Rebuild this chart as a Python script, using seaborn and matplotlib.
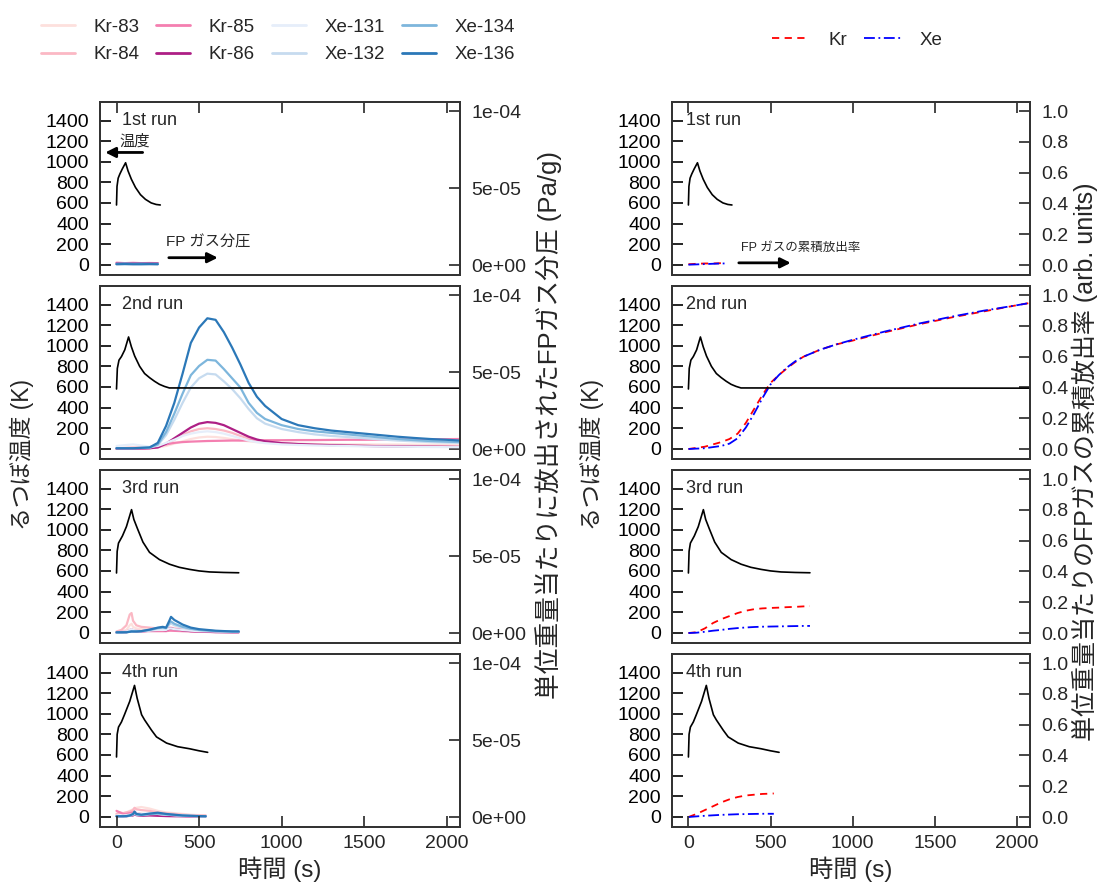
import numpy as np
import pandas as pd
import matplotlib
matplotlib.use("Agg")
import matplotlib.pyplot as plt
import seaborn as sns
from matplotlib.lines import Line2D

sns.set_style("white")
plt.rcParams['font.family'] = ['Liberation Sans', 'Noto Sans CJK JP']
plt.rcParams['axes.unicode_minus'] = False

# ---------------- data ----------------
isotopes = ["Kr-83", "Kr-84", "Kr-85", "Kr-86", "Xe-131", "Xe-132", "Xe-134", "Xe-136"]
iso_colors = ["#fde0dd", "#fbb8c4", "#f47fb0", "#ae1f85", "#e6eefa", "#c6dbef", "#7db6dc", "#2b78b8"]
run_labels = ["1st run", "2nd run", "3rd run", "4th run"]

# crucible temperature (K)
t_temp1 = [0, 3, 10, 20, 35, 55, 70, 90, 115, 145, 175, 210, 240, 265]
T1 = [580, 760, 840, 880, 930, 990, 910, 830, 750, 680, 635, 600, 585, 580]
t_temp2 = [0, 5, 15, 30, 50, 73, 90, 110, 140, 170, 200, 230, 260, 290, 320, 2080]
T2 = [580, 780, 860, 895, 960, 1085, 990, 900, 800, 730, 690, 655, 625, 605, 590, 588]
t_temp3 = [0, 4, 12, 36, 60, 91, 105, 127, 160, 200, 260, 321, 380, 442, 500, 564, 650, 740]
T3 = [580, 790, 870, 940, 1030, 1195, 1100, 1010, 880, 780, 710, 665, 635, 615, 600, 590, 585, 582]
t_temp4 = [0, 4, 12, 30, 48, 80, 109, 125, 152, 170, 212, 242, 303, 370, 442, 500, 552]
T4 = [580, 800, 870, 920, 990, 1120, 1275, 1150, 990, 940, 840, 775, 715, 680, 660, 640, 625]

# FP gas partial pressure per unit mass (1e-5 Pa/g)
t_gas1 = [0, 50, 100, 150, 200, 250]
gas1 = {
    "Kr-83": [0.05, 0.08, 0.06, 0.07, 0.05, 0.05],
    "Kr-84": [0.1, 0.12, 0.1, 0.1, 0.08, 0.08],
    "Kr-85": [0.15, 0.12, 0.14, 0.12, 0.13, 0.12],
    "Kr-86": [0.1, 0.12, 0.1, 0.11, 0.1, 0.1],
    "Xe-131": [0.05, 0.06, 0.05, 0.05, 0.05, 0.05],
    "Xe-132": [0.06, 0.07, 0.06, 0.06, 0.06, 0.06],
    "Xe-134": [0.08, 0.1, 0.08, 0.09, 0.08, 0.08],
    "Xe-136": [0.05, 0.06, 0.05, 0.05, 0.06, 0.05],
}

t_gas2 = [0, 100, 200, 250, 300, 350, 400, 450, 500, 550, 600, 650, 700, 750, 800, 850,
          900, 1000, 1100, 1200, 1300, 1400, 1500, 1600, 1700, 1800, 1900, 2000, 2080]
gas2 = {
    "Kr-83": [0.02, 0.05, 0.05, 0.1, 0.2, 0.35, 0.5, 0.65, 0.75, 0.8, 0.78, 0.72, 0.64, 0.56, 0.5, 0.45,
              0.42, 0.38, 0.35, 0.33, 0.32, 0.3, 0.3, 0.29, 0.29, 0.28, 0.28, 0.28, 0.27],
    "Kr-84": [0.05, 0.1, 0.1, 0.15, 0.3, 0.6, 0.9, 1.15, 1.3, 1.35, 1.3, 1.2, 1.05, 0.85, 0.68, 0.55,
              0.47, 0.38, 0.33, 0.3, 0.27, 0.25, 0.23, 0.21, 0.2, 0.19, 0.18, 0.17, 0.16],
    "Kr-85": [0.02, 0.02, 0.05, 0.15, 0.3, 0.4, 0.45, 0.48, 0.5, 0.52, 0.53, 0.54, 0.55, 0.55, 0.56, 0.56,
              0.57, 0.57, 0.58, 0.58, 0.59, 0.6, 0.6, 0.61, 0.62, 0.62, 0.63, 0.64, 0.65],
    "Kr-86": [0.02, 0.02, 0.05, 0.1, 0.35, 0.7, 1.05, 1.4, 1.65, 1.75, 1.7, 1.55, 1.3, 1.05, 0.8, 0.62,
              0.5, 0.38, 0.32, 0.28, 0.25, 0.22, 0.2, 0.18, 0.17, 0.16, 0.15, 0.14, 0.13],
    "Xe-131": [0.2, 0.3, 0.15, 0.2, 0.4, 0.6, 0.85, 1.0, 1.1, 1.15, 1.1, 1.0, 0.85, 0.7, 0.55, 0.45,
               0.38, 0.3, 0.26, 0.23, 0.21, 0.19, 0.17, 0.16, 0.15, 0.14, 0.13, 0.12, 0.12],
    "Xe-132": [0.05, 0.05, 0.08, 0.25, 0.9, 1.9, 3.0, 4.0, 4.6, 4.9, 4.85, 4.4, 3.9, 3.3, 2.6, 2.0,
               1.65, 1.3, 1.1, 0.95, 0.85, 0.78, 0.7, 0.62, 0.55, 0.5, 0.45, 0.42, 0.4],
    "Xe-134": [0.05, 0.05, 0.1, 0.3, 1.1, 2.3, 3.6, 4.8, 5.4, 5.8, 5.75, 5.2, 4.6, 4.0, 3.0, 2.35,
               1.95, 1.55, 1.3, 1.15, 1.05, 0.95, 0.85, 0.75, 0.65, 0.58, 0.52, 0.48, 0.45],
    "Xe-136": [0.05, 0.05, 0.1, 0.4, 1.5, 3.0, 4.9, 6.9, 7.9, 8.5, 8.4, 7.6, 6.6, 5.5, 4.3, 3.4,
               2.8, 1.95, 1.55, 1.35, 1.2, 1.1, 1.0, 0.9, 0.8, 0.72, 0.65, 0.6, 0.55],
}

t_gas3 = [0, 30, 60, 80, 91, 100, 120, 150, 200, 250, 280, 300, 320, 330, 350, 400, 450, 500, 600, 700, 740]
gas3 = {
    "Kr-83": [0.05, 0.1, 0.2, 0.5, 0.6, 0.4, 0.3, 0.25, 0.2, 0.2, 0.2, 0.2, 0.25, 0.25, 0.2, 0.18, 0.15, 0.12, 0.1, 0.08, 0.08],
    "Kr-84": [0.1, 0.2, 0.5, 1.2, 1.3, 0.8, 0.5, 0.4, 0.35, 0.3, 0.3, 0.3, 0.35, 0.35, 0.3, 0.25, 0.2, 0.15, 0.1, 0.08, 0.08],
    "Kr-85": [0.05, 0.08, 0.1, 0.2, 0.25, 0.2, 0.15, 0.12, 0.12, 0.12, 0.12, 0.12, 0.15, 0.15, 0.14, 0.12, 0.1, 0.08, 0.06, 0.05, 0.05],
    "Kr-86": [0.02, 0.03, 0.05, 0.1, 0.12, 0.1, 0.08, 0.1, 0.15, 0.2, 0.2, 0.18, 0.3, 0.3, 0.25, 0.18, 0.12, 0.1, 0.06, 0.05, 0.05],
    "Xe-131": [0.05, 0.08, 0.1, 0.2, 0.25, 0.2, 0.15, 0.12, 0.15, 0.2, 0.2, 0.2, 0.3, 0.3, 0.25, 0.2, 0.15, 0.12, 0.1, 0.08, 0.08],
    "Xe-132": [0.03, 0.03, 0.05, 0.08, 0.1, 0.1, 0.1, 0.12, 0.18, 0.3, 0.32, 0.3, 0.55, 0.62, 0.5, 0.35, 0.25, 0.18, 0.12, 0.1, 0.1],
    "Xe-134": [0.03, 0.03, 0.05, 0.08, 0.1, 0.1, 0.1, 0.12, 0.2, 0.32, 0.35, 0.32, 0.65, 0.75, 0.6, 0.4, 0.28, 0.2, 0.12, 0.1, 0.1],
    "Xe-136": [0.05, 0.05, 0.05, 0.08, 0.1, 0.1, 0.1, 0.12, 0.22, 0.35, 0.4, 0.35, 0.8, 1.05, 0.85, 0.55, 0.35, 0.25, 0.15, 0.1, 0.1],
}

t_gas4 = [0, 20, 40, 60, 80, 100, 109, 120, 150, 200, 250, 300, 350, 400, 450, 500, 540]
gas4 = {
    "Kr-83": [0.2, 0.25, 0.25, 0.3, 0.4, 0.5, 0.55, 0.6, 0.65, 0.55, 0.4, 0.3, 0.25, 0.2, 0.15, 0.12, 0.1],
    "Kr-84": [0.2, 0.3, 0.25, 0.3, 0.35, 0.45, 0.6, 0.5, 0.45, 0.4, 0.3, 0.25, 0.2, 0.15, 0.12, 0.1, 0.1],
    "Kr-85": [0.4, 0.3, 0.2, 0.2, 0.25, 0.3, 0.35, 0.25, 0.2, 0.15, 0.12, 0.1, 0.08, 0.06, 0.05, 0.05, 0.05],
    "Kr-86": [0.05, 0.05, 0.05, 0.05, 0.08, 0.1, 0.2, 0.12, 0.08, 0.1, 0.08, 0.06, 0.05, 0.05, 0.04, 0.04, 0.04],
    "Xe-131": [0.1, 0.1, 0.1, 0.12, 0.15, 0.2, 0.3, 0.25, 0.2, 0.25, 0.2, 0.15, 0.12, 0.1, 0.08, 0.06, 0.05],
    "Xe-132": [0.05, 0.05, 0.05, 0.06, 0.08, 0.15, 0.25, 0.15, 0.12, 0.18, 0.2, 0.15, 0.12, 0.08, 0.06, 0.05, 0.04],
    "Xe-134": [0.05, 0.05, 0.05, 0.06, 0.08, 0.18, 0.3, 0.18, 0.13, 0.2, 0.22, 0.17, 0.13, 0.09, 0.07, 0.05, 0.04],
    "Xe-136": [0.05, 0.05, 0.05, 0.06, 0.1, 0.2, 0.35, 0.2, 0.15, 0.22, 0.28, 0.2, 0.15, 0.1, 0.08, 0.06, 0.05],
}

# cumulative release fraction (arb. units)
t_cum1 = [0, 50, 100, 150, 200, 230]
kr_cum1 = [0.005, 0.008, 0.01, 0.01, 0.012, 0.012]
xe_cum1 = [0.002, 0.004, 0.006, 0.008, 0.01, 0.01]
t_cum2 = [0, 100, 200, 250, 300, 350, 400, 450, 500, 550, 600, 650, 700, 800, 900, 1000,
          1200, 1400, 1600, 1800, 2000, 2080]
kr_cum2 = [0, 0.015, 0.045, 0.065, 0.1, 0.17, 0.26, 0.35, 0.43, 0.48, 0.525, 0.565, 0.6, 0.645, 0.68, 0.705,
           0.76, 0.81, 0.855, 0.895, 0.935, 0.95]
xe_cum2 = [0, 0.005, 0.02, 0.035, 0.07, 0.14, 0.23, 0.33, 0.42, 0.48, 0.53, 0.57, 0.6, 0.645, 0.68, 0.71,
           0.765, 0.815, 0.86, 0.9, 0.935, 0.95]
t_cum3 = [0, 50, 100, 150, 200, 250, 300, 350, 400, 450, 500, 550, 600, 650, 700, 740]
kr_cum3 = [0, 0.005, 0.03, 0.065, 0.09, 0.11, 0.13, 0.145, 0.155, 0.16, 0.163, 0.165, 0.168, 0.17, 0.173, 0.175]
xe_cum3 = [0, 0.002, 0.008, 0.015, 0.02, 0.027, 0.032, 0.036, 0.039, 0.041, 0.042, 0.043, 0.044, 0.045, 0.046, 0.046]
t_cum4 = [0, 50, 100, 150, 200, 250, 300, 350, 400, 450, 500, 520]
kr_cum4 = [0, 0.02, 0.045, 0.07, 0.095, 0.115, 0.13, 0.14, 0.145, 0.15, 0.152, 0.153]
xe_cum4 = [0, 0.004, 0.008, 0.011, 0.014, 0.016, 0.018, 0.019, 0.02, 0.021, 0.021, 0.021]

temp_runs = [(t_temp1, T1), (t_temp2, T2), (t_temp3, T3), (t_temp4, T4)]
gas_runs = [(t_gas1, gas1), (t_gas2, gas2), (t_gas3, gas3), (t_gas4, gas4)]
cum_runs = [(t_cum1, kr_cum1, xe_cum1), (t_cum2, kr_cum2, xe_cum2),
            (t_cum3, kr_cum3, xe_cum3), (t_cum4, kr_cum4, xe_cum4)]

temp_ticks = [0, 200, 400, 600, 800, 1000, 1200, 1400]
x_ticks = [0, 500, 1000, 1500, 2000]
gas_ticks = [0, 5e-5, 1e-4]
gas_tick_labels = ["0e+00", "5e-05", "1e-04"]
cum_ticks = [0, 0.2, 0.4, 0.6, 0.8, 1.0]
cum_tick_labels = ["0.0", "0.2", "0.4", "0.6", "0.8", "1.0"]

# ---------------- figure ----------------
W, H = 1099, 885
fig = plt.figure(figsize=(W / 100, H / 100), dpi=100)

col_x = [100 / W, 672 / W]
col_w = [360 / W, 358 / W]
row_top = [102, 286, 470, 654]
row_h = 173

XLIM = (-100, 2080)
TLIM = (-100, 1580)
GLIM = (-6.5e-6, 1.06e-4)
CLIM = (-0.065, 1.06)

TICK = 14
spine_col = "#333333"


def style_axes(ax, ax2, row):
    for a in (ax, ax2):
        for s in a.spines.values():
            s.set_color(spine_col)
            s.set_linewidth(1.3)
    ax.tick_params(axis="y", direction="in", length=8, width=1.2, labelsize=TICK, pad=8,
                   left=True, right=False, colors="black")
    ax.tick_params(axis="x", direction="in", length=8, width=1.2, labelsize=TICK, pad=6,
                   top=(row == 0), bottom=(row == 3), labelbottom=(row == 3), labeltop=False)
    ax2.tick_params(axis="y", direction="in", length=8, width=1.2, labelsize=TICK, pad=8,
                    right=True, left=False)
    ax.set_xticks(x_ticks)
    if row not in (0, 3):
        ax.tick_params(axis="x", top=False, bottom=False, labelbottom=False)
    ax.set_xlim(*XLIM)
    ax.set_ylim(*TLIM)
    ax.set_yticks(temp_ticks)
    ax.set_xlabel("")
    ax.set_ylabel("")
    ax2.set_ylabel("")
    ax.set_zorder(ax2.get_zorder() + 1)
    ax.patch.set_visible(False)


for row in range(4):
    bottom = 1 - (row_top[row] + row_h) / H
    # ---- left column: partial pressure ----
    ax = fig.add_axes([col_x[0], bottom, col_w[0], row_h / H])
    ax2 = ax.twinx()
    tg, gd = gas_runs[row]
    for iso, colr in zip(isotopes, iso_colors):
        vals = [v * 1e-5 for v in gd[iso]]
        sns.lineplot(x=tg, y=vals, ax=ax2, color=colr, lw=1.6, estimator=None, sort=False, legend=False)
    tt, TT = temp_runs[row]
    sns.lineplot(x=tt, y=TT, ax=ax, color="black", lw=1.2, estimator=None, sort=False, legend=False)
    ax2.set_ylim(*GLIM)
    ax2.set_yticks(gas_ticks)
    ax2.set_yticklabels(gas_tick_labels)
    style_axes(ax, ax2, row)
    ax.text(0.06, 0.895, run_labels[row], transform=ax.transAxes, fontsize=13, va="center", ha="left")
    if row == 0:
        ax.annotate("", xy=(-85, 1090), xytext=(175, 1090),
                    arrowprops=dict(arrowstyle="-|>,head_length=0.6,head_width=0.3", color="black", lw=2))
        ax.text(20, 1195, "温度", fontsize=11, va="center", ha="left")
        ax.annotate("", xy=(630, 68), xytext=(300, 68),
                    arrowprops=dict(arrowstyle="-|>,head_length=0.6,head_width=0.3", color="black", lw=2))
        ax.text(300, 215, "FP ガス分圧", fontsize=11, va="center", ha="left")
    if row == 3:
        ax.set_xlabel("時間 (s)", fontsize=17.5, labelpad=3)

    # ---- right column: cumulative release ----
    bx = fig.add_axes([col_x[1], bottom, col_w[1], row_h / H])
    bx2 = bx.twinx()
    tc, krc, xec = cum_runs[row]
    sns.lineplot(x=tc, y=krc, ax=bx2, color="red", lw=1.3, linestyle=(0, (4, 3)),
                 estimator=None, sort=False, legend=False)
    sns.lineplot(x=tc, y=xec, ax=bx2, color="blue", lw=1.3, linestyle=(0, (6, 2, 1, 2)),
                 estimator=None, sort=False, legend=False)
    sns.lineplot(x=tt, y=TT, ax=bx, color="black", lw=1.2, estimator=None, sort=False, legend=False)
    bx2.set_ylim(*CLIM)
    bx2.set_yticks(cum_ticks)
    bx2.set_yticklabels(cum_tick_labels)
    style_axes(bx, bx2, row)
    bx.text(0.04, 0.895, run_labels[row], transform=bx.transAxes, fontsize=13, va="center", ha="left")
    if row == 0:
        bx.annotate("", xy=(640, 18), xytext=(290, 18),
                    arrowprops=dict(arrowstyle="-|>,head_length=0.6,head_width=0.3", color="black", lw=2))
        bx.text(320, 165, "FP ガスの累積放出率", fontsize=9, va="center", ha="left")
    if row == 3:
        bx.set_xlabel("時間 (s)", fontsize=17.5, labelpad=3)

# axis titles
fig.text(22 / W, 1 - 455 / H, "るつぼ温度 (K)", rotation=90, fontsize=16.5, va="center", ha="center")
fig.text(548 / W, 1 - 425 / H, "単位重量当たりに放出されたFPガス分圧 (Pa/g)", rotation=90, fontsize=18.5,
         va="center", ha="center")
fig.text(592 / W, 1 - 455 / H, "るつぼ温度 (K)", rotation=90, fontsize=16.5, va="center", ha="center")
fig.text(1085 / W, 1 - 462 / H, "単位重量当たりのFPガスの累積放出率 (arb. units)", rotation=90, fontsize=18,
         va="center", ha="center")

# legends
iso_handles = [Line2D([], [], color=c, lw=2) for c in iso_colors]
fig.legend(iso_handles, isotopes, ncol=4, loc="upper left", bbox_to_anchor=(0.022, 0.998),
           frameon=False, fontsize=13.5, handlelength=1.8, handletextpad=1.0, columnspacing=0.9,
           labelspacing=0.55)
gas_handles = [Line2D([], [], color="red", lw=1.3, linestyle=(0, (4, 3))),
               Line2D([], [], color="blue", lw=1.3, linestyle=(0, (6, 2, 1, 2)))]
fig.legend(gas_handles, ["Kr", "Xe"], ncol=2, loc="upper left", bbox_to_anchor=(0.687, 0.983),
           frameon=False, fontsize=13.5, handlelength=2.0, handletextpad=1.0, columnspacing=0.9)

fig.savefig("out.png", dpi=100)
